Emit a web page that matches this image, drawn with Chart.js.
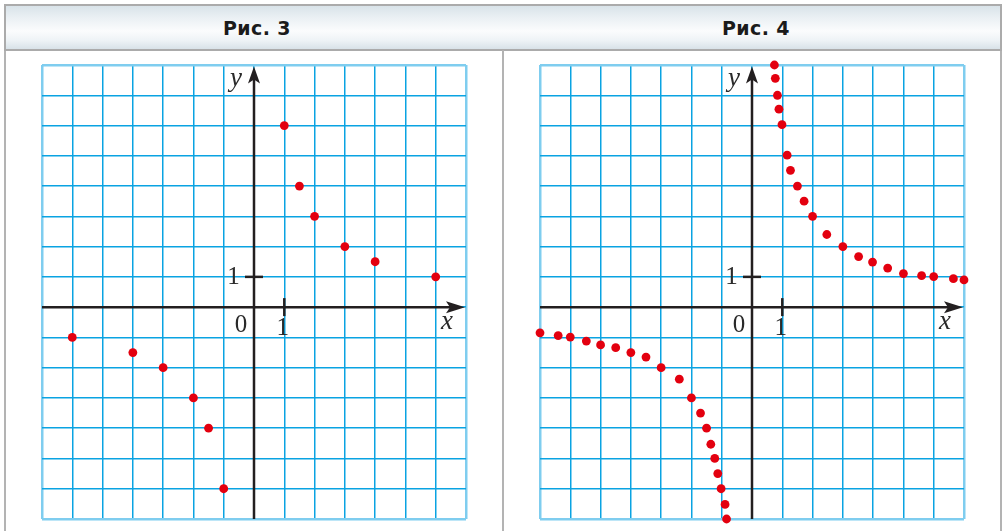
<!DOCTYPE html>
<html lang="ru">
<head>
<meta charset="utf-8">
<title>Рис. 3, Рис. 4</title>
<script src="https://cdn.jsdelivr.net/npm/chart.js@4.4.1/dist/chart.umd.min.js"></script>
<style>
  html, body { margin: 0; padding: 0; background: #fff; }
  body { width: 1003px; height: 531px; position: relative; overflow: hidden; }
  .frame { position: absolute; left: 4px; top: 4px; width: 998px; height: 540px;
           border-left: 2px solid #b3b3b3; border-right: 2px solid #b3b3b3; box-sizing: border-box; }
  .sep { position: absolute; left: 502px; top: 50px; width: 2px; height: 490px; background: #b3b3b3; }
  .head { position: absolute; left: 4px; top: 4px; width: 998px; height: 47px; box-sizing: border-box;
          border: 2px solid #ababab;
          background: linear-gradient(to bottom, #d9e3e9 0%, #e9eff3 25%, #fbfcfd 58%, #eef3f6 80%, #d8e2e8 100%); }
  .title { position: absolute; top: 0; height: 43px; line-height: 44px; width: 300px; text-align: center;
           font-family: "DejaVu Sans", sans-serif; font-weight: bold; font-size: 19px;
           letter-spacing: 0.4px; color: #1b1b1b; }
  canvas { position: absolute; }
</style>
</head>
<body>
<div class="frame"></div>
<div class="head">
  <div class="title" style="left:101px">Рис. 3</div>
  <div class="title" style="left:600px">Рис. 4</div>
</div>
<div class="sep"></div>
<canvas id="fig3" width="444" height="474" style="left:32px; top:55px"></canvas>
<canvas id="fig4" width="444" height="474" style="left:530px; top:55px"></canvas>
<script>
// Рис. 3: отдельные точки графика
const fig3X = [-6, -4, -3, -2, -1.5, -1, 1, 1.5, 2, 3, 4, 6];
const fig3Y = [-1, -1.5, -2, -3, -4, -6, 6, 4, 3, 2, 1.5, 1];

// Рис. 4: более частые точки, две ветви
const fig4LeftX = [-7.0, -6.4, -6.0, -5.47, -5.0, -4.5, -4.0, -3.5, -3.0, -2.4, -2.0, -1.7, -1.5, -1.36, -1.23, -1.13, -1.02, -0.89, -0.84];
const fig4LeftY = [-0.85, -0.94, -0.99, -1.12, -1.25, -1.34, -1.5, -1.65, -2.0, -2.38, -3.0, -3.5, -4.0, -4.53, -5.0, -5.5, -6.0, -6.52, -7.0];
const fig4RightX = [0.74, 0.77, 0.84, 0.89, 0.99, 1.16, 1.27, 1.5, 1.72, 2.0, 2.47, 3.0, 3.52, 3.98, 4.48, 5.0, 5.6, 6.0, 6.65, 7.0];
const fig4RightY = [8.0, 7.56, 7.0, 6.54, 6.03, 5.02, 4.52, 4.0, 3.5, 3.0, 2.4, 2.0, 1.67, 1.49, 1.29, 1.11, 1.04, 1.01, 0.94, 0.9];

// Границы координатной сетки
const xRange = [-7, 7];
const yRange = [-7, 8];

const INK = '#231f20';
const GRID = '#0aa3e2';
const GRID_EDGE = '#7fcdef';
const DOT = '#e3000f';

const pairs = (xs, ys) => xs.map((v, i) => ({ x: v, y: ys[i] }));

// Оси со стрелками, единичные штрихи и подписи
const axesPlugin = {
  id: 'axes',
  beforeDatasetsDraw(chart) {
    const { ctx, chartArea: a, scales: { x, y } } = chart;
    const x0 = x.getPixelForValue(0), y0 = y.getPixelForValue(0);
    const x1 = x.getPixelForValue(1), y1 = y.getPixelForValue(1);
    ctx.save();
    ctx.strokeStyle = INK;
    ctx.fillStyle = INK;
    ctx.lineWidth = 2.5;
    ctx.lineCap = 'butt';
    // ось x
    const xt = a.right - 1;
    ctx.beginPath(); ctx.moveTo(a.left, y0); ctx.lineTo(xt - 12, y0); ctx.stroke();
    ctx.beginPath(); ctx.moveTo(xt, y0); ctx.lineTo(xt - 19, y0 - 6); ctx.lineTo(xt - 15, y0); ctx.lineTo(xt - 19, y0 + 6); ctx.closePath(); ctx.fill();
    // ось y
    const yt = a.top + 1.5;
    ctx.beginPath(); ctx.moveTo(x0, a.bottom); ctx.lineTo(x0, yt + 12); ctx.stroke();
    ctx.beginPath(); ctx.moveTo(x0, yt); ctx.lineTo(x0 - 6, yt + 17); ctx.lineTo(x0, yt + 13); ctx.lineTo(x0 + 6, yt + 17); ctx.closePath(); ctx.fill();
    // единичные отрезки
    ctx.beginPath(); ctx.moveTo(x0 - 9, y1); ctx.lineTo(x0 + 9, y1); ctx.stroke();
    ctx.beginPath(); ctx.moveTo(x1, y0 - 9); ctx.lineTo(x1, y0 + 9); ctx.stroke();
    // подписи
    ctx.fillStyle = '#2a2a2a';
    ctx.textAlign = 'center';
    ctx.textBaseline = 'middle';
    ctx.font = '25px "Liberation Serif", serif';
    ctx.fillText('1', x0 - 20.5, y1 + 0.5);
    ctx.fillText('0', x0 - 13, y0 + 18);
    ctx.fillText('1', x1 - 1.5, y0 + 21);
    ctx.font = 'italic 27px "Liberation Serif", serif';
    ctx.fillText('y', x0 - 18, a.top + 14);
    ctx.fillText('x', a.right - 19, y0 + 15);
    ctx.restore();
  }
};

const edge = (c) => c.index === 0 || c.index === c.scale.ticks.length - 1;

function makeChart(id, datasets) {
  return new Chart(document.getElementById(id), {
    type: 'scatter',
    data: { datasets: datasets.map(d => ({
      data: d,
      backgroundColor: DOT,
      borderColor: DOT,
      borderWidth: 0,
      pointRadius: 4.4,
      pointHoverRadius: 4.4,
      clip: false
    })) },
    options: {
      responsive: false,
      animation: false,
      events: [],
      layout: { padding: 10 },
      plugins: { legend: { display: false }, tooltip: { enabled: false } },
      scales: {
        x: {
          type: 'linear', min: xRange[0], max: xRange[1],
          ticks: { display: false, stepSize: 1 },
          border: { display: false },
          grid: { drawTicks: false, color: c => edge(c) ? GRID_EDGE : GRID, lineWidth: c => edge(c) ? 2.5 : 1.5 }
        },
        y: {
          type: 'linear', min: yRange[0], max: yRange[1],
          ticks: { display: false, stepSize: 1 },
          border: { display: false },
          grid: { drawTicks: false, color: c => edge(c) ? GRID_EDGE : GRID, lineWidth: c => edge(c) ? 2.5 : 1.5 }
        }
      }
    },
    plugins: [axesPlugin]
  });
}

makeChart('fig3', [pairs(fig3X, fig3Y)]);
makeChart('fig4', [pairs(fig4LeftX, fig4LeftY), pairs(fig4RightX, fig4RightY)]);
</script>
</body>
</html>
